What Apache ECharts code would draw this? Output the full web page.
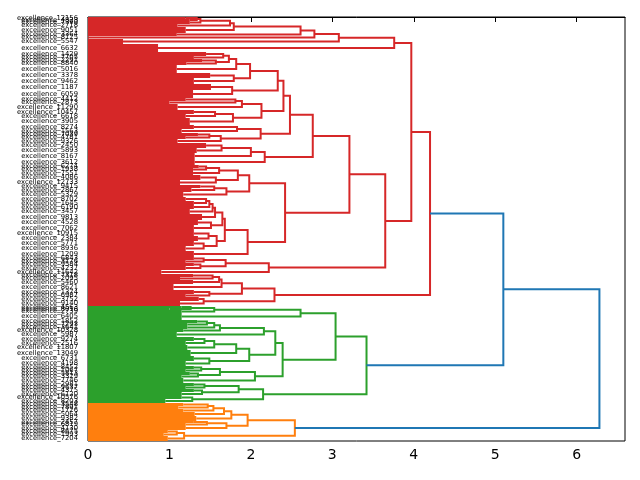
<!DOCTYPE html>
<html>
<head>
<meta charset="utf-8">
<script src="https://cdn.jsdelivr.net/npm/echarts@6/dist/echarts.min.js"></script>
<style>
html, body { margin: 0; padding: 0; background: #fff; }
#chart { width: 640px; height: 480px; }
</style>
</head>
<body>
<div id="chart"></div>
<script>
// link = [mergeHeight, upperChild, lowerChild]; leaf group = [leafCount, height]
var redTop = [3.76,
  [3.08,
    [2.78,
      [2.61,
        [1.79,
          [1.744,
            [1.38, [1.335, [2, 1.2], [2, 1.25]], [3, 1.25]],
            [3, 1.1]],
          [6, 1.2]],
        [3, 1.09]],
      [3, 0]],
    [5, 0.43]],
  [8, 0.86]];

var redUpper = [2.76,
  [2.48,
    [2.40,
      [2.33,
        [1.99,
          [1.82,
            [1.73, [1.66, [4, 1.45], [3, 1.3]], [1.57, [3, 1.4], [3, 1.21]]],
            [8, 1.09]],
          [1.79, [5, 1.5], [6, 1.3]]],
        [1.77, [6, 1.51], [8, 1.29]]],
      [2.13,
        [1.89, [1.81, [3, 1.2], [3, 1.0]], [6, 1.1]],
        [1.78, [1.56, [4, 1.3], [4, 1.2]], [7, 1.25]]]],
    [2.12,
      [1.83, [4, 1.3], [4, 1.15]],
      [1.63, [1.49, [3, 1.35], [3, 1.2]], [4, 1.1]]]],
  [2.17,
    [2.0, [1.64, [5, 1.45], [5, 1.335]], [6, 1.31]],
    [6, 1.31]]];

var redMiddle = [2.42,
  [1.98,
    [1.84,
      [1.61, [1.45, [3, 1.36], [3, 1.29]], [4, 1.29]],
      [1.57, [5, 1.38], [5, 1.13]]],
    [1.70, [1.55, [3, 1.38], [4, 1.27]], [5, 1.17]]],
  [1.96,
    [1.68,
      [1.65,
        [1.56, [1.53, [1.49, [1.45, [4, 1.2], [4, 1.3]], [4, 1.3]], [5, 1.25]], [6, 1.4]],
        [1.51, [5, 1.35], [6, 1.3]]],
      [1.58, [1.48, [5, 1.3], [5, 1.35]], [1.42, [5, 1.3], [5, 1.2]]]],
    [6, 1.3]]];

var redLow = [2.22, [1.69, [1.42, [3, 1.3], [3, 1.2]], [1.38, [3, 1.3], [4, 1.2]]], [4, 0.9]];

var redBottom = [2.29,
  [1.89,
    [1.64, [1.61, [1.53, [3, 1.29], [3, 1.13]], [4, 1.29]], [6, 1.05]],
    [1.49, [4, 1.3], [3, 1.2]]],
  [1.42, [4, 1.36], [5, 1.13]]];

var greenTree = [3.42,
  [3.04,
    [2.61, [1.55, [1.26, [2, 1.15], [2, 1.0]], [3, 1.15]], [7, 1.15]],
    [2.39,
      [2.30,
        [2.16, [1.62, [1.55, [1.46, [3, 1.34], [3, 1.22]], [3, 1.22]], [3, 1.17]], [5, 1.09]],
        [1.98, [1.82, [1.55, [1.43, [4, 1.3], [4, 1.2]], [5, 1.22]], [6, 1.26]], [1.49, [5, 1.3], [5, 1.2]]]],
      [2.05, [1.62, [1.39, [3, 1.3], [3, 1.2]], [1.35, [3, 1.25], [3, 1.15]]], [5, 1.17]]]],
  [2.15, [1.85, [1.43, [3, 1.3], [3, 1.2]], [1.40, [3, 1.3], [4, 1.15]]], [1.28, [3, 1.15], [4, 0.95]]]];

var orangeTree = [2.54,
  [1.96,
    [1.76, [1.67, [1.54, [1.47, [3, 1.17], [3, 1.11]], [3, 1.17]], [4, 1.31]], [5, 1.33]],
    [1.70, [1.46, [2, 1.3], [3, 1.2]], [4, 1.2]]],
  [1.18, [1.09, [3, 0.98], [3, 0.93]], [5, 0.98]]];

// leaf label ids, one per leaf group, top to bottom
var leafIds = [
  12156, 4823, 7390, 2718, 9051, 3364, 8125, 5547, 6632,
  1429, 7705, 2291, 8840, 5016, 3378, 9462, 1187, 6059, 4412, 2873, 11290,
  10457, 6618, 3905, 8274, 1563, 7039, 4781, 9326, 2450, 5893, 8167, 3612,
  6274, 1938, 7551, 4086, 12733, 9415, 2867, 5329, 8702, 1645, 6190, 3457,
  9813, 4528, 7062, 10915, 2384, 5771, 8936, 1209,
  6843, 3176, 9584, 4237, 11642,
  7318, 2095, 5460, 8621, 1374, 6987, 3752, 9140,
  4563, 8016, 2739, 6405, 1852, 7293, 3641, 10328, 5987, 9274, 2516, 11807,
  13049, 6731, 4198, 8452, 1067, 5813, 3329, 7746, 2981, 9637, 4375, 6120,
  10576, 8203,
  3548, 7891, 1726, 5064, 9382, 2457, 6819, 4130, 8675, 1993, 7204
];

var xTicks = [0, 1, 2, 3, 4, 5, 6];
var palette = ['#d62728', '#2ca02c', '#ff7f0e', '#1f77b4'];

var redTree = [4.2, [3.97, redTop, [3.65, [3.21, redUpper, redMiddle], redLow]], redBottom];
var root = [6.28, [5.1, redTree, greenTree], orangeTree];
var clusters = [redTree, greenTree, orangeTree];

var linkData = [];
var groupData = [];
var cursor = 0;

function walk(node, colorIdx) {
  var ci = clusters.indexOf(node);
  if (ci >= 0) colorIdx = ci;
  if (typeof node[1] === 'number') {
    var from = cursor;
    cursor += node[0];
    groupData.push([from, cursor, node[1], colorIdx]);
    return { y: (from + cursor) / 2, h: node[1] };
  }
  var a = walk(node[1], colorIdx);
  var b = walk(node[2], colorIdx);
  linkData.push([a.y, b.y, a.h, b.h, node[0], colorIdx]);
  return { y: (a.y + b.y) / 2, h: node[0] };
}
walk(root, 3);
var leafCount = cursor;

var leafLabels = [];
for (var i = 0; i < leafCount; i++) leafLabels.push('');
groupData.forEach(function (g, k) {
  leafLabels[Math.floor((g[0] + g[1]) / 2)] = 'excellence_' + leafIds[k];
});

function renderGroup(params, api) {
  var h = api.value(2);
  if (!(h > 0)) return;
  var p0 = api.coord([0, api.value(0)]);
  var p1 = api.coord([h, api.value(1)]);
  return {
    type: 'rect',
    shape: { x: p0[0], y: p0[1], width: p1[0] - p0[0], height: p1[1] - p0[1] },
    style: { fill: palette[api.value(3)] }
  };
}

function renderLink(params, api) {
  var ya = api.value(0), yb = api.value(1), h = api.value(4);
  return {
    type: 'polyline',
    shape: {
      points: [
        api.coord([api.value(2), ya]),
        api.coord([h, ya]),
        api.coord([h, yb]),
        api.coord([api.value(3), yb])
      ]
    },
    style: { stroke: palette[api.value(5)], lineWidth: 2, fill: null }
  };
}

var chart = echarts.init(document.getElementById('chart'));
chart.setOption({
  animation: false,
  grid: { left: 88, right: 15, top: 17, bottom: 39, show: true, borderColor: '#000', borderWidth: 1 },
  xAxis: {
    type: 'value',
    min: 0,
    max: root[0] * 1.05,
    interval: 1,
    axisLine: { show: true, lineStyle: { color: '#000', width: 1 } },
    axisTick: { show: true, length: 5, customValues: xTicks, lineStyle: { color: '#000' } },
    axisLabel: { customValues: xTicks, fontSize: 14, color: '#000', fontFamily: 'DejaVu Sans', margin: 7 },
    splitLine: { show: false }
  },
  yAxis: [{
    type: 'value',
    min: 0,
    max: leafCount,
    inverse: true,
    show: false
  }, {
    type: 'category',
    data: leafLabels,
    inverse: true,
    boundaryGap: true,
    position: 'left',
    axisLine: { show: false },
    axisTick: { show: false },
    axisLabel: { interval: 0, fontSize: 6.8, fontFamily: 'DejaVu Sans', color: '#000', margin: 10 },
    splitLine: { show: false }
  }],
  series: [{
    type: 'custom',
    renderItem: renderGroup,
    data: groupData,
    encode: { x: 2, y: [0, 1] },
    silent: true,
    z: 1
  }, {
    type: 'custom',
    renderItem: renderLink,
    data: linkData,
    encode: { x: [2, 3, 4], y: [0, 1] },
    silent: true,
    z: 2
  }]
});
</script>
</body>
</html>
